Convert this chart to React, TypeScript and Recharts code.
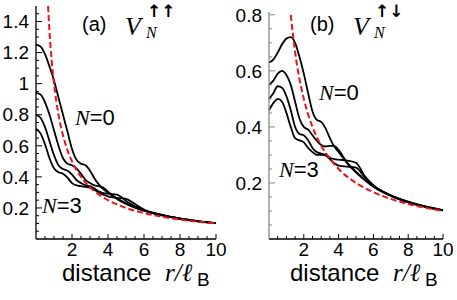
import React from 'react';
import { LineChart, Line, XAxis, YAxis } from 'recharts';

// sample positions r / l_B for the black curves
const xs = [0, 0.25, 0.5, 0.75, 1, 1.25, 1.5, 1.75, 2, 2.25, 2.5, 2.75, 3, 3.25, 3.5, 3.75, 4, 4.5, 5, 5.5, 6, 7, 8, 9, 10];

// panel (a) V_N up-up, N = 0..3
const a0 = [1.25, 1.24, 1.19, 1.11, 1.02, 0.91, 0.8, 0.69, 0.58, 0.51, 0.485, 0.475, 0.44, 0.39, 0.35, 0.32, 0.298, 0.262, 0.23, 0.204, 0.183, 0.153, 0.131, 0.115, 0.102];
const a1 = [0.94, 0.93, 0.88, 0.8, 0.7, 0.6, 0.52, 0.485, 0.475, 0.455, 0.42, 0.38, 0.36, 0.345, 0.34, 0.33, 0.305, 0.258, 0.226, 0.202, 0.182, 0.152, 0.13, 0.114, 0.102];
const a2 = [0.8, 0.78, 0.72, 0.63, 0.54, 0.475, 0.45, 0.44, 0.415, 0.38, 0.36, 0.345, 0.34, 0.325, 0.305, 0.295, 0.292, 0.285, 0.245, 0.21, 0.186, 0.153, 0.131, 0.114, 0.102];
const a3 = [0.71, 0.68, 0.61, 0.52, 0.455, 0.43, 0.42, 0.395, 0.36, 0.345, 0.34, 0.335, 0.33, 0.315, 0.3, 0.285, 0.275, 0.265, 0.258, 0.225, 0.19, 0.155, 0.132, 0.115, 0.102];

// panel (b) V_N up-down, N = 0..3
const b0 = [0.63, 0.64, 0.665, 0.695, 0.715, 0.72, 0.7, 0.65, 0.59, 0.52, 0.455, 0.425, 0.418, 0.395, 0.36, 0.33, 0.31, 0.272, 0.24, 0.212, 0.188, 0.156, 0.133, 0.116, 0.103];
const b1 = [0.55, 0.565, 0.59, 0.6, 0.585, 0.55, 0.49, 0.43, 0.4, 0.39, 0.37, 0.35, 0.335, 0.33, 0.332, 0.332, 0.318, 0.27, 0.238, 0.21, 0.186, 0.154, 0.132, 0.115, 0.102];
const b2 = [0.5, 0.52, 0.545, 0.54, 0.51, 0.46, 0.4, 0.375, 0.37, 0.352, 0.325, 0.31, 0.305, 0.3, 0.29, 0.285, 0.283, 0.28, 0.272, 0.225, 0.192, 0.155, 0.132, 0.115, 0.102];
const b3 = [0.46, 0.485, 0.5, 0.49, 0.45, 0.4, 0.36, 0.352, 0.345, 0.325, 0.31, 0.3, 0.3, 0.298, 0.285, 0.27, 0.262, 0.258, 0.255, 0.22, 0.19, 0.154, 0.131, 0.115, 0.102];

// red dashed Coulomb curve
const redXA = [0.67, 0.75, 0.875, 1, 1.25, 1.5, 1.75, 2, 2.5, 3, 3.5, 4, 5, 6, 7, 8, 9, 10];
const redA = [1.5, 1.333, 1.143, 1, 0.8, 0.667, 0.571, 0.5, 0.4, 0.333, 0.286, 0.25, 0.2, 0.167, 0.143, 0.125, 0.111, 0.1];
const redXB = [1.25, 1.5, 1.75, 2, 2.5, 3, 3.5, 4, 5, 6, 7, 8, 9, 10];
const redB = [0.8, 0.667, 0.571, 0.5, 0.4, 0.333, 0.286, 0.25, 0.2, 0.167, 0.143, 0.125, 0.111, 0.1];

// ticks
const xMajor = [2, 4, 6, 8, 10];
const xTicks = [0.5, 1, 1.5, 2, 2.5, 3, 3.5, 4, 4.5, 5, 5.5, 6, 6.5, 7, 7.5, 8, 8.5, 9, 9.5, 10];
const yMajorA = [0.2, 0.4, 0.6, 0.8, 1, 1.2, 1.4];
const yTicksA = [0.05, 0.1, 0.15, 0.2, 0.25, 0.3, 0.35, 0.4, 0.45, 0.5, 0.55, 0.6, 0.65, 0.7, 0.75, 0.8, 0.85, 0.9, 0.95, 1, 1.05, 1.1, 1.15, 1.2, 1.25, 1.3, 1.35, 1.4, 1.45];
const yMajorB = [0.2, 0.4, 0.6, 0.8];
const yTicksB = [0.05, 0.1, 0.15, 0.2, 0.25, 0.3, 0.35, 0.4, 0.45, 0.5, 0.55, 0.6, 0.65, 0.7, 0.75, 0.8];

const pts = (x: number[], y: number[]) => x.map((v, i) => ({ x: v, y: y[i] }));

const SANS = 'Liberation Sans, Arial, sans-serif';
const SERIF = 'Liberation Serif, DejaVu Serif, serif';

const YTick = (props: any) => {
  const { x, y, payload, majors, color } = props;
  const major = majors.includes(payload.value);
  const ax = x + 7;
  return (
    <g>
      <line x1={ax} x2={ax + (major ? 6 : 3)} y1={y} y2={y} stroke={color} strokeWidth={1} />
      {major && (
        <text x={x} y={y} dy="0.355em" textAnchor="end" fontSize={19} fontFamily={SANS} fill="#000">
          {String(payload.value)}
        </text>
      )}
    </g>
  );
};

const XTick = (props: any) => {
  const { x, y, payload } = props;
  const major = xMajor.includes(payload.value);
  const ay = y - 4;
  return (
    <g>
      <line x1={x} x2={x} y1={ay} y2={ay - (major ? 5 : 3)} stroke="#000" strokeWidth={1} />
      {major && (
        <text x={x} y={y} dy="0.71em" textAnchor="middle" fontSize={19} fontFamily={SANS} fill="#000">
          {String(payload.value)}
        </text>
      )}
    </g>
  );
};

const black = { stroke: '#000', strokeWidth: 1.8, dot: false, isAnimationActive: false, type: 'monotone' as const };
const red = { stroke: '#e8141c', strokeWidth: 2, strokeDasharray: '6 3', dot: false, isAnimationActive: false, type: 'monotone' as const };

const Panel = ({ width, yWidth, yMax, yTicks, yMajor, yColor, series, redPts }: any) => (
  <LineChart width={width} height={300} margin={{ top: yMax > 1 ? 6 : 12, right: 14, bottom: 0, left: 0 }}>
    <XAxis
      dataKey="x"
      type="number"
      domain={[0, 10]}
      ticks={xTicks}
      tick={<XTick />}
      tickSize={0}
      tickMargin={4}
      height={61}
      axisLine={{ stroke: '#000', strokeWidth: 1.3 }}
      tickLine={false}
      interval={0}
    />
    <YAxis
      type="number"
      domain={[0, yMax]}
      ticks={yTicks}
      tick={<YTick majors={yMajor} color={yColor} />}
      tickSize={0}
      tickMargin={7}
      width={yWidth}
      axisLine={{ stroke: yColor, strokeWidth: 1.3 }}
      tickLine={false}
      interval={0}
      allowDataOverflow
    />
    {series.map((s: number[], i: number) => (
      <Line key={i} data={pts(xs, s)} dataKey="y" {...black} />
    ))}
    <Line data={redPts} dataKey="y" {...red} />
  </LineChart>
);

const Labels = ({ dx, tag, arrows, n0, n3 }: any) => (
  <g>
    <text x={dx + 82} y={31} fontSize={20} fontFamily={SANS}>{tag}</text>
    <text x={dx + 125} y={35} fontSize={26} fontFamily={SERIF} fontStyle="italic">V</text>
    <text x={dx + 146} y={38} fontSize={16} fontFamily={SERIF} fontStyle="italic">N</text>
    <text x={dx + 147} y={17} fontSize={17} fontFamily="DejaVu Sans, sans-serif" fontWeight="bold">{arrows}</text>
    <text x={n0[0]} y={n0[1]} fontSize={22} fontFamily={SANS}>
      <tspan fontFamily={SERIF} fontStyle="italic">N</tspan>=0
    </text>
    <text x={n3[0]} y={n3[1]} fontSize={22} fontFamily={SANS}>
      <tspan fontFamily={SERIF} fontStyle="italic">N</tspan>=3
    </text>
    <text x={dx + 62} y={281} fontSize={24} fontFamily={SANS}>distance</text>
    <text x={dx + 165} y={281} fontSize={25} fontFamily={SERIF} fontStyle="italic">r/ℓ</text>
    <text x={dx + 197} y={286} fontSize={19} fontFamily={SANS}>B</text>
  </g>
);

export default function App() {
  return (
    <div style={{ position: 'absolute', left: 0, top: 0, width: 457, height: 300, background: '#fff', overflow: 'hidden' }}>
      <div style={{ position: 'absolute', left: 0, top: 0 }}>
        <Panel width={230} yWidth={36} yMax={1.5} yTicks={yTicksA} yMajor={yMajorA} yColor="#000" series={[a0, a1, a2, a3]} redPts={pts(redXA, redA)} />
      </div>
      <div style={{ position: 'absolute', left: 230, top: 0 }}>
        <Panel width={227} yWidth={39} yMax={0.81} yTicks={yTicksB} yMajor={yMajorB} yColor="#888" series={[b0, b1, b2, b3]} redPts={pts(redXB, redB)} />
      </div>
      <svg width={457} height={300} style={{ position: 'absolute', left: 0, top: 0, pointerEvents: 'none' }}>
        <Labels dx={0} tag="(a)" arrows="↑↑" n0={[75, 125]} n3={[42, 213]} />
        <Labels dx={228} tag="(b)" arrows="↑↓" n0={[319, 100]} n3={[279, 177]} />
      </svg>
    </div>
  );
}
